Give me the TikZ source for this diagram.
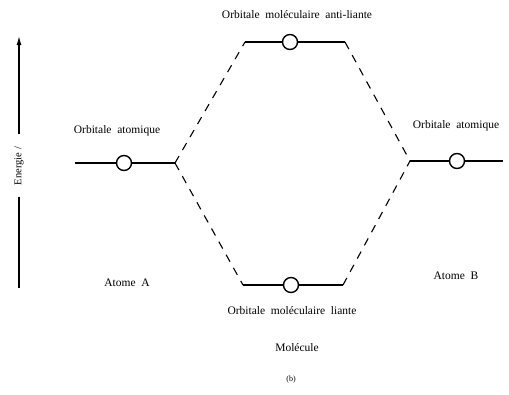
\documentclass[tikz,border=0pt]{standalone}
\usepackage{fontspec}
\setmainfont{Liberation Serif}
\usetikzlibrary{arrows.meta}
\begin{document}
\begin{tikzpicture}[x=1pt,y=-1pt,
  level/.style={line width=1.8pt},
  orb/.style={circle,draw,line width=1.4pt,fill=white,minimum size=15pt,inner sep=0pt},
  corr/.style={line width=1.1pt,dash pattern=on 8pt off 7pt},
  lbl/.style={font=\fontsize{11.5}{13}\selectfont,inner sep=0pt},
  axis/.style={line width=1.2pt}]
\useasboundingbox (0,0) rectangle (509,394);
% energy axis
\coordinate (eb) at (19,288);
\coordinate (et) at (19,36);
\node[lbl,rotate=90,font=\fontsize{10.5}{12}\selectfont] (elab) at (19,166) {Energie /};
\draw[axis] (eb) -- (19,197);
\draw[axis,-{Latex[length=9pt,width=5pt]}] (19,134) -- (et);
% levels
\coordinate (la) at (75,163); \coordinate (ra) at (175,163);
\coordinate (lt) at (245,42); \coordinate (rt) at (345,42);
\coordinate (lb) at (243,285); \coordinate (rb) at (343,285);
\coordinate (lr) at (410,161); \coordinate (rr) at (503,161);
\draw[level] (la) -- (ra);
\draw[level] (lt) -- (rt);
\draw[level] (lb) -- (rb);
\draw[level] (lr) -- (rr);
\node[orb] (oa) at (124,163) {};
\node[orb] (ot) at (290,42) {};
\node[orb] (ob) at (291,285) {};
\node[orb] (or) at (457,161) {};
% correlation lines
\draw[corr] (ra) -- (lt);
\draw[corr] (ra) -- (lb);
\draw[corr] (rt) -- (lr);
\draw[corr] (rb) -- (lr);
% labels
\node[lbl] (t1) at (297,15) {Orbitale\ \ moléculaire\ \ anti-liante};
\node[lbl] (t2) at (117,131) {Orbitale\ \ atomique};
\node[lbl] (t3) at (456,126) {Orbitale\ \ atomique};
\node[lbl] (t4) at (127,283) {Atome\ \ A};
\node[lbl] (t5) at (456,276) {Atome\ \ B};
\node[lbl] (t6) at (292,311) {Orbitale\ \ moléculaire\ \ liante};
\node[lbl] (t7) at (297,348) {Molécule};
\node[lbl,font=\fontsize{8}{9}\selectfont] (t8) at (291,380) {(b)};
\end{tikzpicture}
\end{document}
